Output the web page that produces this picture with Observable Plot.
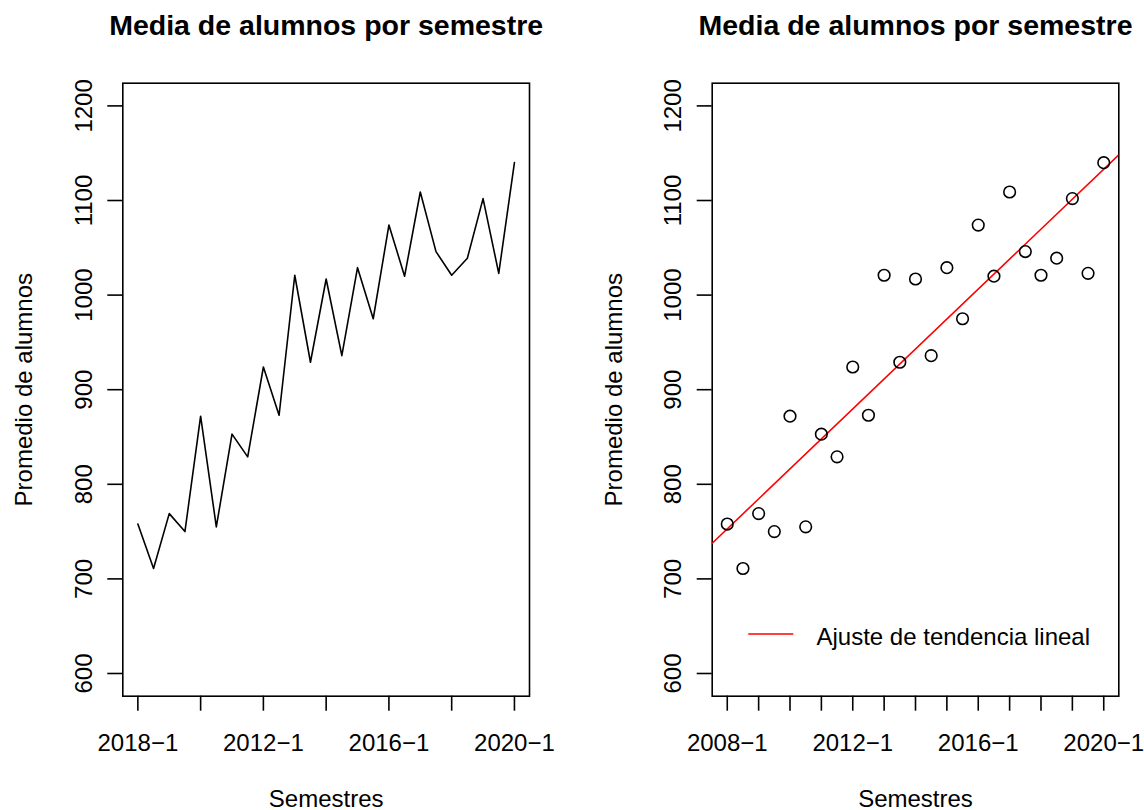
<!DOCTYPE html>
<html><head><meta charset="utf-8">
<script src="https://cdn.jsdelivr.net/npm/d3@7"></script>
<script src="https://cdn.jsdelivr.net/npm/@observablehq/plot@0.6"></script>
<style>
body{margin:0;background:#fff;}
#chart{position:relative;width:1144px;height:810px;display:flex;background:#fff;}
#chart svg{display:block;overflow:visible;}
</style></head><body><div id="chart"></div>
<script>
// ---- data ----
const semestres = ["2008-1","2008-2","2009-1","2009-2","2010-1","2010-2","2011-1","2011-2","2012-1","2012-2",
  "2013-1","2013-2","2014-1","2014-2","2015-1","2015-2","2016-1","2016-2","2017-1","2017-2",
  "2018-1","2018-2","2019-1","2019-2","2020-1"];
const promedio = [758, 711, 769, 750, 872, 755, 853, 829, 924, 873,
  1021, 929, 1017, 936, 1029, 975, 1074, 1020, 1109, 1046,
  1021, 1039, 1102, 1023, 1140];
const yTicks = [600, 700, 800, 900, 1000, 1100, 1200];
const xTicksLeft = [0, 4, 8, 12, 16, 20, 24];
const xTicksRight = [0, 2, 4, 6, 8, 10, 12, 14, 16, 18, 20, 22, 24];
const xLabelIdx = [0, 8, 16, 24];
const xLabelsLeft = ["2018\u22121", "2012\u22121", "2016\u22121", "2020\u22121"];
const xLabelsRight = ["2008\u22121", "2012\u22121", "2016\u22121", "2020\u22121"];
const titulo = "Media de alumnos por semestre";
const xTitulo = "Semestres";
const yTitulo = "Promedio de alumnos";
const leyenda = "Ajuste de tendencia lineal";

// ---- derived ----
const data = semestres.map((s, i) => ({i, s, v: promedio[i]}));
const n = promedio.length;
const pad = (n - 1) * 0.04;
const xDomain = [-pad, n - 1 + pad];
const yDomain = [600 - 24, 1200 + 24];
const mx = d3.mean(data, d => d.i), my = d3.mean(data, d => d.v);
const slope = d3.sum(data, d => (d.i - mx) * (d.v - my)) / d3.sum(data, d => (d.i - mx) ** 2);
const inter = my - slope * mx;
const fitLine = xDomain.map(x => ({i: x, v: inter + slope * x}));

const FONT = "'Liberation Sans', Arial, Helvetica, sans-serif";
const FS = 24;
const LW = 1.6;

function common(xTicks, xLabels) {
  return [
    Plot.frame({stroke: "black", strokeWidth: LW}),
    Plot.axisX(xTicks, {tickSize: 15, tickFormat: () => "", strokeWidth: LW, label: null}),
    Plot.axisY(yTicks, {tickSize: 15, tickFormat: () => "", strokeWidth: LW, label: null}),
    Plot.text(xLabelIdx, {x: d => d, text: (d, k) => xLabels[k], frameAnchor: "bottom", dy: 54.3,
      lineAnchor: "bottom", textAnchor: "middle", fontSize: FS, fill: "black"}),
    Plot.text(yTicks, {y: d => d, text: d => String(d), frameAnchor: "left", dx: -31, rotate: -90,
      lineAnchor: "bottom", textAnchor: "middle", fontSize: FS, fill: "black"}),
    Plot.text([titulo], {frameAnchor: "top", dy: -47.7, lineAnchor: "bottom", textAnchor: "middle",
      fontSize: 28.5, fontWeight: "bold", fill: "black"}),
    Plot.text([xTitulo], {frameAnchor: "bottom", dy: 111, lineAnchor: "bottom", textAnchor: "middle",
      fontSize: FS, fill: "black"}),
    Plot.text([yTitulo], {frameAnchor: "left", dx: -90.6, rotate: -90, lineAnchor: "bottom",
      textAnchor: "middle", fontSize: FS, fill: "black"})
  ];
}

function panel(ml, mr, marks) {
  return Plot.plot({
    width: 572, height: 810,
    marginLeft: ml, marginRight: mr, marginTop: 82.7, marginBottom: 114.3,
    style: {fontFamily: FONT, fontSize: FS + "px", background: "white", color: "black", overflow: "visible"},
    x: {type: "linear", domain: xDomain, axis: null},
    y: {type: "linear", domain: yDomain, axis: null},
    marks
  });
}

const left = panel(122.3, 43, [
  ...common(xTicksLeft, xLabelsLeft),
  Plot.line(data, {x: "i", y: "v", stroke: "black", strokeWidth: LW})
]);

const right = panel(139.7, 25.7, [
  ...common(xTicksRight, xLabelsRight),
  Plot.line(fitLine, {x: "i", y: "v", stroke: "#ff0000", strokeWidth: LW, clip: true}),
  Plot.dot(data, {x: "i", y: "v", r: 5.8, stroke: "black", strokeWidth: LW, fill: "none"}),
  (index, scales, values, dims) => {
    const g = d3.create("svg:g");
    const x0 = dims.marginLeft, yb = dims.height - dims.marginBottom;
    g.append("line").attr("x1", x0 + 36.6).attr("x2", x0 + 81.6)
      .attr("y1", yb - 61.7).attr("y2", yb - 61.7)
      .attr("stroke", "#ff0000").attr("stroke-width", LW);
    return g.node();
  },
  Plot.text([leyenda], {frameAnchor: "bottom-left", dx: 104.3, dy: -51.7, lineAnchor: "bottom",
    textAnchor: "start", fontSize: FS, fill: "black"})
]);

document.getElementById("chart").append(left, right);
</script>
</body></html>
